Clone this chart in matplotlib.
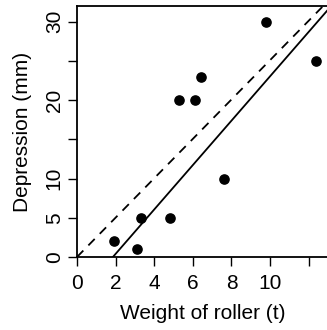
import numpy as np
import matplotlib
matplotlib.use("Agg")
import matplotlib.pyplot as plt

plt.rcParams['font.family'] = ['Liberation Sans', 'DejaVu Sans']

# roller data
weight = [1.9, 3.1, 3.3, 4.8, 5.3, 6.1, 6.4, 7.6, 9.8, 12.4]
depression = [2, 1, 5, 5, 20, 20, 23, 10, 30, 25]

# lines
origin_slope = 2.51            # dashed, through origin
fit_intercept = -5.26          # solid
fit_slope = 2.83

x = np.array(weight)
y = np.array(depression)

fig = plt.figure(figsize=(3.27, 3.30), dpi=100)
ax = fig.add_axes([77 / 327, 1 - 257 / 330, 251 / 327, 251 / 330])

ax.scatter(x, y, s=44, color='black', zorder=3, clip_on=False)
xx = np.array([0, 14])
ax.plot(xx, origin_slope * xx, color='black', lw=1.3, ls=(0, (5, 4)))
ax.plot(xx, fit_intercept + fit_slope * xx, color='black', lw=1.3)

ax.set_xlim(0, 13)
ax.set_ylim(0, 32)
ax.set_xticks(range(0, 13, 2))
ax.set_xticklabels(['0', '2', '4', '6', '8', '10', ''])
ax.set_yticks(range(0, 31, 5))
ax.set_yticklabels(['0', '5', '10', '', '20', '', '30'], rotation=90, va='center')
ax.tick_params(direction='out', length=6.5, width=1, labelsize=15)
ax.tick_params(axis='x', pad=5.5)
ax.tick_params(axis='y', pad=3)
for s in ax.spines.values():
    s.set_linewidth(1.3)

ax.set_xlabel('Weight of roller (t)', fontsize=15, labelpad=8)
ax.set_ylabel('Depression (mm)', fontsize=15, labelpad=9)

fig.savefig('out.png', dpi=100)
